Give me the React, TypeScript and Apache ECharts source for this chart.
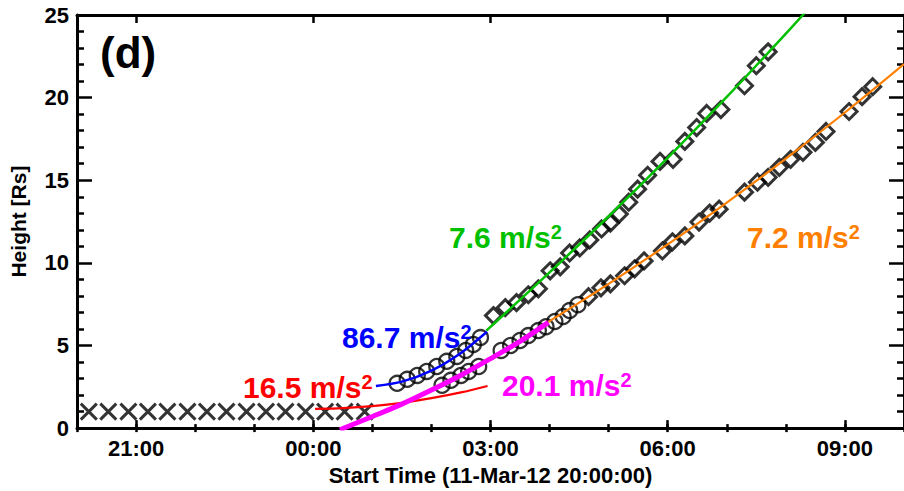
import React, { useEffect, useRef } from 'react';
import * as echarts from 'echarts';

const FONT = "'Liberation Sans', Arial, Helvetica, sans-serif";

// x values are hours after the start time 11-Mar-12 20:00:00
const tickHours = [1, 4, 7, 10, 13];
const tickLabels = ['21:00', '00:00', '03:00', '06:00', '09:00'];

// early "x" points
const crossT = [0.2, 0.53, 0.87, 1.2, 1.53, 1.87, 2.2, 2.53, 2.87, 3.2, 3.53, 3.87, 4.2, 4.53, 4.87];
const crossH = [1.0, 1.0, 1.0, 1.0, 1.0, 1.0, 1.0, 1.0, 1.0, 1.0, 1.0, 1.0, 1.0, 1.0, 1.0];

// circles, upper track
const circUpT = [5.42, 5.59, 5.76, 5.92, 6.09, 6.26, 6.43, 6.58, 6.71, 6.83];
const circUpH = [2.71, 2.95, 3.19, 3.43, 3.73, 4.04, 4.34, 4.7, 5.06, 5.48];
// circles, lower track
const circLoT = [6.18, 6.33, 6.5, 6.63, 6.8, 7.18, 7.34, 7.5, 7.64, 7.81, 7.94, 8.09, 8.23, 8.34, 8.48];
const circLoH = [2.59, 2.89, 3.19, 3.43, 3.73, 4.7, 5.0, 5.3, 5.6, 5.9, 6.14, 6.45, 6.75, 7.11, 7.47];

// diamonds, upper track
const diaUpT = [7.05, 7.25, 7.44, 7.64, 7.81, 8.01, 8.18, 8.34, 8.51, 8.68, 8.88, 9.03, 9.18, 9.34, 9.49, 9.66, 9.87, 10.09, 10.29, 10.49, 10.66, 10.9, 11.3, 11.5, 11.7];
const diaUpH = [6.81, 7.29, 7.59, 8.07, 8.43, 9.52, 9.76, 10.6, 10.9, 11.39, 12.05, 12.41, 12.95, 13.67, 14.46, 15.3, 16.14, 16.27, 17.35, 18.19, 19.04, 19.28, 20.72, 21.93, 22.77];
// diamonds, lower track
const diaLoT = [8.66, 8.87, 9.03, 9.27, 9.44, 9.6, 9.91, 10.08, 10.29, 10.53, 10.71, 10.87, 11.3, 11.52, 11.7, 11.89, 12.08, 12.29, 12.5, 12.68, 13.07, 13.29, 13.47];
const diaLoH = [7.95, 8.49, 8.73, 9.22, 9.64, 10.12, 10.72, 11.27, 11.63, 12.47, 13.01, 13.25, 14.28, 14.88, 15.18, 15.78, 16.27, 16.69, 17.29, 17.95, 19.16, 20.06, 20.66];

// fitted curves
const redT = [4.03, 4.5, 5.0, 5.5, 6.0, 6.5, 6.95];
const redH = [1.16, 1.21, 1.33, 1.53, 1.81, 2.16, 2.55];
const magT = [4.45, 5.0, 5.5, 6.0, 6.5, 7.0, 7.5, 7.98];
const magH = [-0.1, 0.7, 1.45, 2.3, 3.2, 4.2, 5.25, 6.4];
const blueT = [5.06, 5.5, 6.0, 6.5, 6.94];
const blueH = [2.55, 2.81, 3.48, 4.55, 5.83];
const greenT = [6.93, 8.0, 9.0, 10.0, 11.0, 12.0, 12.35];
const greenH = [5.9, 9.42, 12.82, 16.36, 20.04, 23.87, 25.25];
const orangeT = [7.98, 9.0, 10.0, 11.0, 12.0, 13.0, 14.0];
const orangeH = [6.43, 8.73, 11.12, 13.65, 16.31, 19.1, 22.03];

const COL = {
  red: '#ff0000',
  magenta: '#ff00ff',
  blue: '#0000ff',
  green: '#00c000',
  orange: '#ff8000',
};

const zip = (a: number[], b: number[]) => a.map((v, i) => [v, b[i]]);

const labelText = (txt: string, x: number, y: number, color: string, size = 30) => ({
  type: 'text',
  x,
  y,
  z: 100,
  style: {
    text: txt + '{s|2}',
    fill: color,
    fontSize: size,
    fontWeight: 'bold',
    fontFamily: FONT,
    verticalAlign: 'middle',
    rich: {
      s: { fontSize: 20, fontWeight: 'bold', fontFamily: FONT, fill: color, verticalAlign: 'top' },
    },
  },
});

export default function App() {
  const ref = useRef<HTMLDivElement>(null);
  useEffect(() => {
    if (!ref.current) return;
    const chart = echarts.init(ref.current, undefined, { renderer: 'svg' });
    const majorX = {
      type: 'value',
      min: 0,
      max: 14,
      splitLine: { show: false },
      axisLine: { show: true, onZero: false, lineStyle: { color: '#000', width: 3 } },
      axisTick: { show: true, inside: true, length: 8, customValues: tickHours, lineStyle: { color: '#000', width: 2.5 } },
    };
    const minorX = {
      type: 'value',
      min: 0,
      max: 14,
      interval: 1,
      splitLine: { show: false },
      axisLine: { show: false },
      axisLabel: { show: false },
      axisTick: { show: true, inside: true, length: 4, lineStyle: { color: '#000', width: 2.5 } },
    };
    const yBase = {
      type: 'value',
      min: 0,
      max: 25,
      interval: 5,
      splitLine: { show: false },
      minorSplitLine: { show: false },
      axisLine: { show: true, onZero: false, lineStyle: { color: '#000', width: 3 } },
      axisTick: { show: true, inside: true, length: 15, lineStyle: { color: '#000', width: 2.5 } },
      minorTick: { show: true, splitNumber: 5, length: 7, lineStyle: { color: '#000', width: 2.5 } },
    };
    const scat = (data: number[][], symbol: string, size: number, bw: number) => ({
      type: 'scatter',
      data,
      symbol,
      symbolSize: size,
      xAxisIndex: 0,
      yAxisIndex: 0,
      silent: true,
      itemStyle: { color: 'none', borderColor: '#000', borderWidth: bw },
      emphasis: { disabled: true },
    });
    const fit = (data: number[][], color: string, width: number) => ({
      type: 'line',
      data,
      showSymbol: false,
      symbol: 'none',
      smooth: 0.3,
      silent: true,
      xAxisIndex: 0,
      yAxisIndex: 0,
      lineStyle: { color, width },
      emphasis: { disabled: true },
    });
    chart.setOption({
      animation: false,
      backgroundColor: '#fff',
      grid: { left: 75.5, right: -4.5, top: 15, bottom: 61, containLabel: false },
      xAxis: [
        {
          ...majorX,
          position: 'bottom',
          axisLabel: {
            show: true,
            customValues: tickHours,
            formatter: (v: number) => tickLabels[tickHours.indexOf(v)] ?? '',
            color: '#000',
            fontSize: 22,
            fontWeight: 'bold',
            fontFamily: FONT,
            margin: 9,
          },
          name: 'Start Time (11-Mar-12 20:00:00)',
          nameLocation: 'middle',
          nameGap: 33,
          nameTextStyle: { color: '#000', fontSize: 22, fontWeight: 'bold', fontFamily: FONT },
        },
        { ...minorX, position: 'bottom' },
        { ...majorX, position: 'top', axisLabel: { show: false } },
        { ...minorX, position: 'top' },
      ],
      yAxis: [
        {
          ...yBase,
          position: 'left',
          axisLabel: { color: '#000', fontSize: 22, fontWeight: 'bold', fontFamily: FONT, margin: 8 },
          name: 'Height [Rs]',
          nameLocation: 'middle',
          nameGap: 48,
          nameTextStyle: { color: '#000', fontSize: 21, fontWeight: 'bold', fontFamily: FONT },
        },
        { ...yBase, position: 'right', axisLabel: { show: false } },
      ],
      series: [
        scat(zip(crossT, crossH), 'path://M0 0L10 10M10 0L0 10', 16, 3),
        scat(zip(circUpT, circUpH), 'circle', 15, 2.3),
        scat(zip(circLoT, circLoH), 'circle', 15, 2.3),
        scat(zip(diaUpT, diaUpH), 'diamond', 16, 3),
        scat(zip(diaLoT, diaLoH), 'diamond', 16, 3),
        fit(zip(redT, redH), COL.red, 2.2),
        fit(zip(magT, magH), COL.magenta, 5),
        fit(zip(blueT, blueH), COL.blue, 2.5),
        fit(zip(greenT, greenH), COL.green, 2.5),
        fit(zip(orangeT, orangeH), COL.orange, 2.2),
      ],
      graphic: [
        {
          type: 'text',
          x: 100,
          y: 52,
          z: 100,
          style: { text: '(d)', fill: '#000', fontSize: 44, fontWeight: 'bold', fontFamily: FONT, verticalAlign: 'middle' },
        },
        labelText('7.6 m/s', 449, 237, COL.green),
        labelText('7.2 m/s', 747, 237, COL.orange),
        labelText('86.7 m/s', 342, 337, COL.blue),
        labelText('16.5 m/s', 243, 387, COL.red),
        labelText('20.1 m/s', 502, 385, COL.magenta),
      ],
    });
    return () => chart.dispose();
  }, []);
  return <div ref={ref} style={{ position: 'fixed', left: 0, top: 0, width: 904, height: 491 }} />;
}
